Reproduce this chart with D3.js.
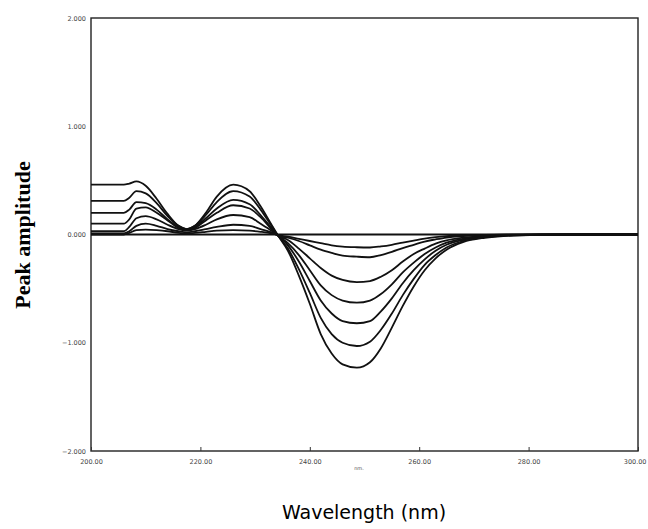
<!DOCTYPE html>
<html>
<head>
<meta charset="utf-8">
<script src="https://cdn.jsdelivr.net/npm/d3@7"></script>
<style>
  body { margin: 0; background: #fff; }
  .tick text { font-family: "DejaVu Sans", sans-serif; font-size: 6.5px; fill: #444; }
  .curve { fill: none; stroke: #111; stroke-width: 1.8; }
</style>
</head>
<body>
<div id="container"></div>
<script>
const W = 648, H = 529;
const margin = { top: 18, left: 91, bottom: 78, right: 10 };
const width = W - margin.left - margin.right;
const height = H - margin.top - margin.bottom;

// wavelength grid (nm)
const wavelengths = [200, 206, 207, 208.3, 210, 212, 214, 216, 217.5, 219, 221, 223, 226, 229, 231, 233,
  234.2, 236, 238, 240, 242, 244, 246, 248.6, 251, 253, 255, 257, 259, 261, 263, 265, 268, 272, 276, 282, 290, 300];

const curve1 = [0.46, 0.46, 0.47, 0.49, 0.45, 0.33, 0.19, 0.08, 0.05, 0.08, 0.20, 0.35, 0.46, 0.40, 0.26, 0.09,
  -0.01, -0.15, -0.38, -0.64, -0.92, -1.10, -1.20, -1.23, -1.18, -1.05, -0.86, -0.66, -0.48, -0.33, -0.22, -0.14, -0.07, -0.03, -0.012, -0.003, 0, 0];
const curve2 = [0.31, 0.31, 0.34, 0.40, 0.38, 0.29, 0.17, 0.08, 0.05, 0.08, 0.18, 0.30, 0.40, 0.35, 0.23, 0.08,
  -0.01, -0.13, -0.32, -0.54, -0.77, -0.92, -1.00, -1.03, -0.99, -0.88, -0.73, -0.56, -0.41, -0.28, -0.19, -0.12, -0.06, -0.025, -0.01, -0.003, 0, 0];
const curve3 = [0.20, 0.20, 0.23, 0.30, 0.29, 0.23, 0.14, 0.07, 0.045, 0.07, 0.15, 0.24, 0.32, 0.28, 0.18, 0.06,
  -0.01, -0.10, -0.25, -0.43, -0.61, -0.73, -0.80, -0.82, -0.80, -0.71, -0.59, -0.45, -0.33, -0.23, -0.15, -0.095, -0.05, -0.02, -0.008, -0.002, 0, 0];
const curve4 = [0.10, 0.10, 0.14, 0.24, 0.25, 0.20, 0.13, 0.06, 0.04, 0.06, 0.13, 0.20, 0.27, 0.24, 0.16, 0.05,
  -0.01, -0.08, -0.19, -0.33, -0.47, -0.56, -0.61, -0.63, -0.61, -0.55, -0.46, -0.35, -0.26, -0.18, -0.12, -0.075, -0.04, -0.015, -0.006, -0.002, 0, 0];
const curve5 = [0.03, 0.03, 0.07, 0.15, 0.17, 0.14, 0.09, 0.05, 0.035, 0.05, 0.09, 0.14, 0.18, 0.16, 0.10, 0.035,
  -0.01, -0.05, -0.13, -0.22, -0.31, -0.38, -0.42, -0.44, -0.43, -0.39, -0.33, -0.25, -0.18, -0.13, -0.085, -0.055, -0.03, -0.012, -0.005, -0.001, 0, 0];
const curve6 = [0.01, 0.01, 0.03, 0.08, 0.10, 0.08, 0.05, 0.03, 0.02, 0.03, 0.05, 0.07, 0.09, 0.08, 0.05, 0.02,
  -0.01, -0.03, -0.06, -0.10, -0.14, -0.17, -0.195, -0.205, -0.21, -0.19, -0.16, -0.125, -0.095, -0.065, -0.045, -0.028, -0.015, -0.006, -0.002, 0, 0, 0];
const curve7 = [0, 0, 0.015, 0.04, 0.045, 0.04, 0.03, 0.015, 0.01, 0.015, 0.025, 0.035, 0.04, 0.035, 0.025, 0.01,
  -0.005, -0.02, -0.04, -0.06, -0.08, -0.10, -0.112, -0.118, -0.12, -0.11, -0.095, -0.075, -0.056, -0.038, -0.025, -0.015, -0.008, -0.003, -0.001, 0, 0, 0];
const baselineWl = [200, 300];
const baseline = [0, 0];

const xTicks = [200, 220, 240, 260, 280, 300];
const yTicks = [-2, -1, 0, 1, 2];

const series = [curve1, curve2, curve3, curve4, curve5, curve6, curve7];

const svg = d3.select('#container').append('svg')
  .attr('width', W).attr('height', H)
  .append('g')
  .attr('transform', 'translate(' + margin.left + ',' + margin.top + ')');

const x = d3.scaleLinear().domain([200, 300]).range([0, width]);
const y = d3.scaleLinear().domain([-2, 2]).range([height, 0]);

// frame
svg.append('rect')
  .attr('width', width).attr('height', height)
  .attr('fill', 'none').attr('stroke', '#222').attr('stroke-width', 1.4);

const xAxis = d3.axisBottom(x).tickValues(xTicks).tickSizeInner(-4).tickSizeOuter(0)
  .tickPadding(8).tickFormat(d3.format('.2f'));
const xg = svg.append('g').attr('class', 'axis').attr('transform', 'translate(0,' + height + ')').call(xAxis);
xg.select('.domain').remove();
xg.selectAll('line').attr('stroke', '#333');
// last label sits against the page edge
xg.selectAll('.tick').filter(d => d === 300).select('text')
  .attr('text-anchor', 'end').attr('x', 8);

const yAxis = d3.axisLeft(y).tickValues(yTicks).tickSize(0).tickPadding(5).tickFormat(d3.format('.3f'));
const yg = svg.append('g').attr('class', 'axis').call(yAxis);
yg.select('.domain').remove();

const line = d3.line().curve(d3.curveMonotoneX);

svg.append('path').attr('class', 'curve')
  .attr('d', line(baselineWl.map((w, i) => [x(w), y(baseline[i])])))
  .attr('stroke-width', 1.2);

series.forEach(s => {
  svg.append('path').attr('class', 'curve')
    .attr('d', line(wavelengths.map((w, i) => [x(w), y(s[i])])));
});

svg.append('text')
  .attr('x', x(249)).attr('y', height + 19)
  .attr('text-anchor', 'middle')
  .style('font-family', 'DejaVu Sans, sans-serif').style('font-size', '5px').style('fill', '#555')
  .text('nm.');

// axis titles
d3.select('svg').append('text')
  .attr('transform', 'translate(30,235) rotate(-90)')
  .attr('text-anchor', 'middle')
  .style('font-family', 'Liberation Serif, serif').style('font-weight', 'bold').style('font-size', '22px')
  .text('Peak amplitude');

d3.select('svg').append('text')
  .attr('x', 364).attr('y', 519)
  .attr('text-anchor', 'middle')
  .style('font-family', 'DejaVu Sans, sans-serif').style('font-size', '19px')
  .text('Wavelength (nm)');
</script>
</body>
</html>
